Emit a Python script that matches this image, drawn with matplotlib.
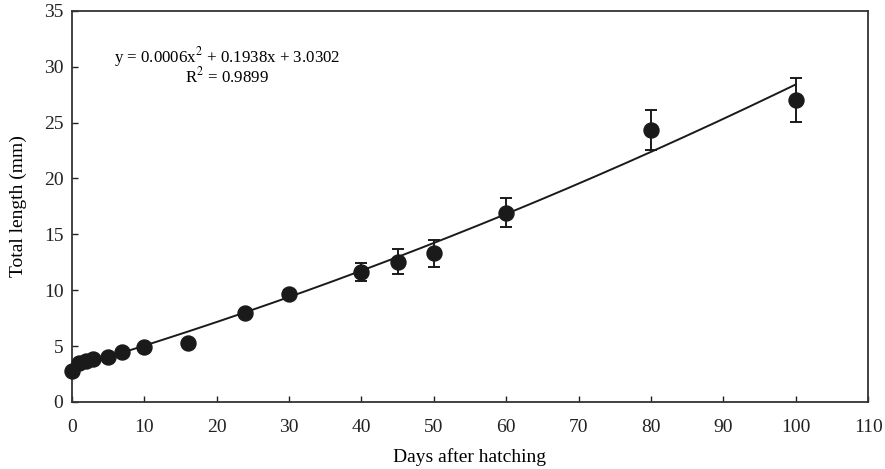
import matplotlib.pyplot as plt
import numpy as np

plt.rcParams['font.family'] = ['Liberation Serif', 'DejaVu Serif']
plt.rcParams['mathtext.fontset'] = 'stix'

# days after hatching and mean total length (mm)
days = [0, 1, 2, 3, 5, 7, 10, 16, 24, 30, 40, 45, 50, 60, 80, 100]
length = [2.8, 3.5, 3.7, 3.8, 4.05, 4.45, 4.9, 5.3, 7.95, 9.7, 11.6, 12.55, 13.3, 16.95, 24.3, 27.0]
err = [0.1, 0.1, 0.1, 0.1, 0.1, 0.15, 0.2, 0.2, 0.2, 0.3, 0.8, 1.1, 1.2, 1.3, 1.8, 1.95]

# quadratic trendline coefficients (a, b, c)
coef = [0.0006, 0.1938, 3.0302]
r2 = 0.9899

fig, ax = plt.subplots(figsize=(8.85, 4.69), dpi=100)
fig.subplots_adjust(left=0.081, right=0.981, top=0.977, bottom=0.143)

xs = np.linspace(0, 100, 200)
ax.plot(xs, np.polyval(coef, xs), color='#1a1a1a', lw=1.4, zorder=2)
ax.errorbar(days, length, yerr=err, fmt='o', color='#1a1a1a', ms=10.8,
            ecolor='#1a1a1a', elinewidth=1.4, capsize=4, capthick=1.4,
            zorder=3, clip_on=False)

ax.text(21.5, 30.9, r'y = 0.0006x$^2$ + 0.1938x + 3.0302', ha='center', va='center', fontsize=12.2)
ax.text(21.5, 29.1, r'R$^2$ = %.4f' % r2, ha='center', va='center', fontsize=12.2)

ax.set_xlim(0, 110)
ax.set_ylim(0, 35)
ax.set_xticks(range(0, 111, 10))
ax.set_yticks(range(0, 36, 5))
ax.tick_params(direction='in', length=4, width=1, labelsize=14, colors='#222222')
ax.tick_params(axis='x', pad=12)
ax.tick_params(axis='y', pad=6)
for s in ax.spines.values():
    s.set_linewidth(1.3)
    s.set_color('#333333')
ax.set_xlabel('Days after hatching', fontsize=14, labelpad=9)
ax.set_ylabel('Total length (mm)', fontsize=14, labelpad=12)

plt.savefig('out.png', dpi=100)
